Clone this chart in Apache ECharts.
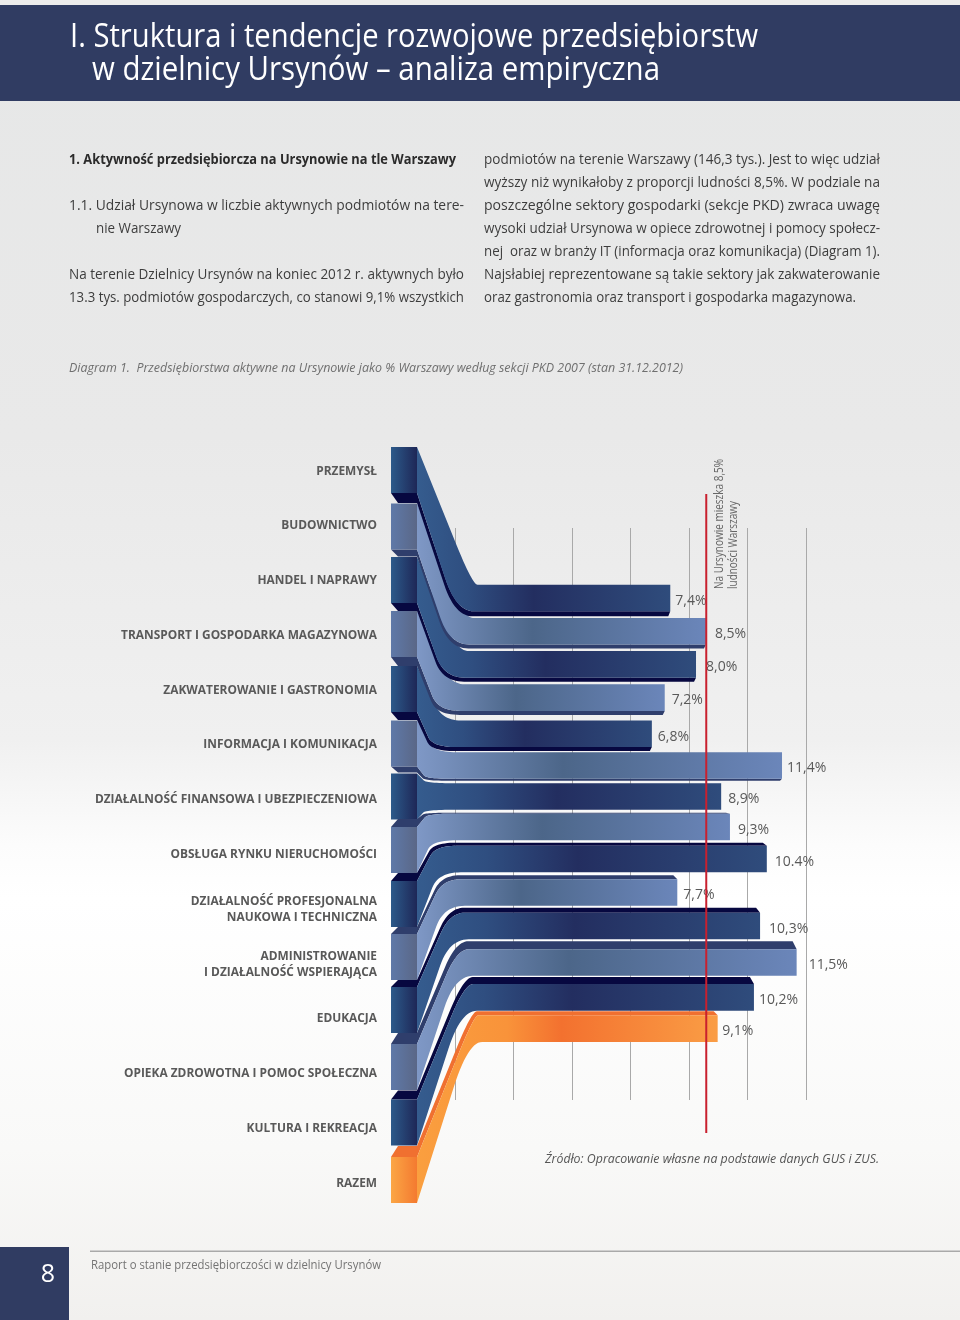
<!DOCTYPE html>
<html><head><meta charset="utf-8">
<style>html,body{margin:0;padding:0;background:#fff}#c{width:960px;height:1320px}</style>
<script src="https://cdn.jsdelivr.net/npm/echarts@6/dist/echarts.min.js"></script>
</head><body><div id="c"></div>
<script>
// ---- data ----
const categories = ['PRZEMYSŁ','BUDOWNICTWO','HANDEL I NAPRAWY','TRANSPORT I GOSPODARKA MAGAZYNOWA','ZAKWATEROWANIE I GASTRONOMIA','INFORMACJA I KOMUNIKACJA','DZIAŁALNOŚĆ FINANSOWA I UBEZPIECZENIOWA','OBSŁUGA RYNKU NIERUCHOMOŚCI','DZIAŁALNOŚĆ PROFESJONALNA\nNAUKOWA I TECHNICZNA','ADMINISTROWANIE\nI DZIAŁALNOŚĆ WSPIERAJĄCA','EDUKACJA','OPIEKA ZDROWOTNA I POMOC SPOŁECZNA','KULTURA I REKREACJA','RAZEM'];
const printedLabels = ['7,4%','8,5%','8,0%','7,2%','6,8%','11,4%','8,9%','9,3%','10.4%','7,7%','10,3%','11,5%','10,2%','9,1%'];
// bar lengths as drawn in axis units (the source's bars differ slightly from their printed labels)
const barLengths = [7.36,8.58,8.24,7.17,6.73,11.18,9.10,9.40,10.66,7.60,10.43,11.68,10.22,8.98];
const populationShare = 8.59;
const axisTicks = {min:0,max:12,interval:2};

// ---- layout and style ----
const ROW_PX = 33.2, ROW0_PX = 598, GRID_TOP = 443.8, BAND_PX = 54.77, GRID_H = BAND_PX*14;
const rowDomain = [(GRID_TOP-ROW0_PX)/ROW_PX, (GRID_TOP+GRID_H-ROW0_PX)/ROW_PX];
const BLOCK_ORIGIN = (470-ROW0_PX)/ROW_PX, BLOCK_STEP = BAND_PX/ROW_PX;
const rowNudge = [0,0,0,0,3,1.5,-.7,-3.4,-4.6,-4.3,-4,-.7,1,-1];
const blockNudge = [0,1.7,.5,-.3,0,-.3,-2.1,-3.4,-4.2,-6,-7.7,-5.5,-4.7,-2];
const blockFace = [10,7,8,9,8,6,0,-8,-8,-7,-7,-11,-9,-11];
const barFace = [5,4,4,4,4,2,0,-1,-3,-4,-5,-8,-7,-4];
const labelGap = [5,9,10,7,6,5,7,8,8,6,9,12,5,4.5];
const drawOrder = [6,5,4,3,2,1,0,7,8,9,10,11,12,13];
const palette = {
  navy:{ribbon:[[0,'#355c8e'],[.2,'#2f4e80'],[.46,'#232e60'],[1,'#2f4c7c']],block:['#2c5a8a','#1e2757'],face:'#070840'},
  light:{ribbon:[[0,'#7f98c6'],[.4,'#4c6689'],[1,'#6b86ba']],block:['#5f79a8','#5a6787'],face:'#2f3e6c'},
  orange:{ribbon:[[0,'#fa9f3f'],[.3,'#f9933a'],[.48,'#f3712f'],[1,'#fa9d45']],block:['#fba645','#f47a30'],face:'#f07030'}
};
const paletteOf = i => i===13 ? palette.orange : (i%2 ? palette.light : palette.navy);

function edge(x0,y0,y1,xEnd,k){
  const dy=Math.abs(y1-y0), ex=x0+33+.2*dy, cx=Math.min(ex-4,x0+6+k*dy);
  const ax=x0+.72*(cx-x0), ay=y0+.72*(y1-y0), pts=[[x0,y0]];
  for(let s=0;s<=14;s++){const t=s/14,u=1-t;pts.push([u*u*ax+2*u*t*cx+t*t*ex,u*u*ay+2*u*t*y1+t*t*y1]);}
  pts.push([xEnd,y1]);return pts;
}
function renderRow(params,api){
  const value=api.value(0), i=api.value(1), p=paletteOf(i);
  const origin=api.coord([0,0])[0], X0=origin-38, XB=origin-64;
  const end=api.coord([value,i])[0];
  const yc=api.coord([0,i])[1]+rowNudge[i];
  const bc=api.coord([0,BLOCK_ORIGIN+i*BLOCK_STEP])[1]+blockNudge[i];
  const H=13.3,B=23, bt=bc-B, bb=bc+B, t=yc-H, b=yc+H;
  const top=edge(X0,bt,t,end,.36), bot=edge(X0,bb,b,end,.28);
  const fill={type:'linear',x:X0,y:0,x2:end,y2:0,global:true,colorStops:p.ribbon.map(s=>({offset:s[0],color:s[1]}))};
  const kids=[];
  const df=barFace[i], db=blockFace[i];
  if(df>0||db>0){ const o=edge(X0,bb+Math.max(db,0),b+Math.max(df,0),end-2,.28);
    kids.push({type:'polygon',shape:{points:bot.concat(o.reverse())},style:{fill:p.face}}); }
  if(df<0||db<0){ const o=edge(X0,bt+Math.min(db,0),t+Math.min(df,0),end-4,.36);
    kids.push({type:'polygon',shape:{points:top.concat(o.reverse())},style:{fill:p.face}}); }
  kids.push({type:'polygon',shape:{points:top.concat(bot.slice().reverse())},style:{fill}});
  if(db>0) kids.push({type:'polygon',shape:{points:[[XB,bb],[X0,bb],[X0,bb+db],[XB+7,bb+db]]},style:{fill:p.face}});
  if(db<0) kids.push({type:'polygon',shape:{points:[[XB,bt],[X0,bt],[X0,bt+db],[XB+7,bt+db]]},style:{fill:p.face}});
  kids.push({type:'rect',shape:{x:XB,y:bt,width:X0-XB,height:2*B},style:{fill:{type:'linear',x:0,y:0,x2:1,y2:0,colorStops:[{offset:0,color:p.block[0]},{offset:1,color:p.block[1]}]}}});
  kids.push({type:'text',x:end+labelGap[i],y:yc+2.8,style:{text:printedLabels[i],fill:'#595959',font:'14px "Open Sans"',textAlign:'left',textVerticalAlign:'middle'}});
  return {type:'group',children:kids};
}

// ---- page text (real text, squeezed to the source's line widths) ----
const ctx=document.createElement('canvas').getContext('2d');
function line(text,x,xEnd,y,font,fill,rot){
  ctx.font=font; const w=ctx.measureText(text).width;
  return {type:'text',z:5,x,y,rotation:rot||0,scaleX:Math.abs(xEnd-x)/w,style:{text,font,fill,textAlign:'left',textVerticalAlign:'middle'}};
}
const BODY='14px "Open Sans"',INK='#3d3d3d';
const pageText=[
 line('I. Struktura i tendencje rozwojowe przedsiębiorstw',70,758,38,'32px "Open Sans"','#fff'),
 line('w dzielnicy Ursynów – analiza empiryczna',92,660,71,'32px "Open Sans"','#fff'),
 line('1. Aktywność przedsiębiorcza na Ursynowie na tle Warszawy',69,456,160,'bold 14px "Open Sans"','#2b2b2b'),
 line('1.1. Udział Ursynowa w liczbie aktywnych podmiotów na tere-',69,464,206,BODY,INK),
 line('nie Warszawy',96,181,229,BODY,INK),
 line('Na terenie Dzielnicy Ursynów na koniec 2012 r. aktywnych było',69,464,275,BODY,INK),
 line('13.3 tys. podmiotów gospodarczych, co stanowi 9,1% wszystkich',69,464,298,BODY,INK),
 line('podmiotów na terenie Warszawy (146,3 tys.). Jest to więc udział',484,880,160,BODY,INK),
 line('wyższy niż wynikałoby z proporcji ludności 8,5%. W podziale na',484,880,183,BODY,INK),
 line('poszczególne sektory gospodarki (sekcje PKD) zwraca uwagę',484,880,206,BODY,INK),
 line('wysoki udział Ursynowa w opiece zdrowotnej i pomocy społecz-',484,880,229,BODY,INK),
 line('nej  oraz w branży IT (informacja oraz komunikacja) (Diagram 1).',484,880,252,BODY,INK),
 line('Najsłabiej reprezentowane są takie sektory jak zakwaterowanie',484,880,275,BODY,INK),
 line('oraz gastronomia oraz transport i gospodarka magazynowa.',484,856,298,BODY,INK),
 line('Diagram 1.  Przedsiębiorstwa aktywne na Ursynowie jako % Warszawy według sekcji PKD 2007 (stan 31.12.2012)',69,683,368,'italic 13px "Open Sans"','#6f6f6f'),
 line('Źródło: Opracowanie własne na podstawie danych GUS i ZUS.',545,879,1159,'italic 13px "Open Sans"','#555'),
 line('Raport o stanie przedsiębiorczości w dzielnicy Ursynów',91,381,1265,'13px "Open Sans"','#747474'),
 {type:'text',z:5,x:48,y:1275,style:{text:'8',fill:'#fff',font:'25px "Open Sans"',textAlign:'center',textVerticalAlign:'middle'}},
 line('Na Ursynowie mieszka 8,5%',719,719+130,589,'12.5px "Open Sans"','#666',Math.PI/2),
 line('ludności Warszawy',733,733+88,589,'12.5px "Open Sans"','#666',Math.PI/2)
];
const pageShapes=[
 {type:'rect',z:1,shape:{x:0,y:0,width:960,height:5},style:{fill:'#ececec'}},
 {type:'rect',z:1,shape:{x:0,y:5,width:960,height:96},style:{fill:'#303c62'}},
 {type:'rect',z:1,shape:{x:0,y:1247,width:69,height:73},style:{fill:'#303c62'}},
 {type:'rect',z:1,shape:{x:90,y:1250.5,width:870,height:1.5},style:{fill:'#a9a9a9'}}
];

const chart=echarts.init(document.getElementById('c'),null,{width:960,height:1320});
chart.setOption({
  animation:false,
  backgroundColor:{type:'linear',x:0,y:0,x2:0,y2:1,colorStops:[
    {offset:0,color:'#e6e7e7'},{offset:.33,color:'#e9e9e9'},{offset:.56,color:'#f0f0f0'},{offset:.64,color:'#fcfcfc'},{offset:.68,color:'#ffffff'},{offset:.87,color:'#f9f9f8'},{offset:1,color:'#f1f0ee'}]},
  graphic:{elements:pageShapes.concat(pageText)},
  grid:[
    {left:455,width:351,top:GRID_TOP,height:GRID_H},
    {left:455,width:351,top:528,height:572}
  ],
  xAxis:[
    {type:'value',gridIndex:0,...axisTicks,show:false},
    {type:'value',gridIndex:1,...axisTicks,axisLine:{show:false},axisTick:{show:false},axisLabel:{show:false},splitLine:{show:true,lineStyle:{color:'#a9a9a9',width:1}}}
  ],
  yAxis:[
    {type:'category',gridIndex:0,inverse:true,data:categories,axisLine:{show:false},axisTick:{show:false},splitLine:{show:false},
     axisLabel:{interval:0,margin:78,color:'#595959',fontFamily:'"Open Sans"',fontWeight:'bold',fontSize:11.9,lineHeight:16,align:'right'}},
    {type:'value',gridIndex:0,inverse:true,min:rowDomain[0],max:rowDomain[1],show:false,splitLine:{show:false}},
    {type:'value',gridIndex:1,show:false,min:0,max:1,splitLine:{show:false}}
  ],
  series:[
    {type:'custom',name:'Udział Ursynowa',xAxisIndex:0,yAxisIndex:1,clip:false,silent:true,z:3,
     encode:{x:0,y:1},renderItem:renderRow,data:drawOrder.map(i=>[barLengths[i],i])},
    {type:'line',name:'Udział ludności',xAxisIndex:0,yAxisIndex:1,z:4,silent:true,symbol:'none',
     lineStyle:{color:'#c9202e',width:2},data:[[populationShare,(494-ROW0_PX)/ROW_PX],[populationShare,(1133-ROW0_PX)/ROW_PX]]}
  ]
});
</script></body></html>
